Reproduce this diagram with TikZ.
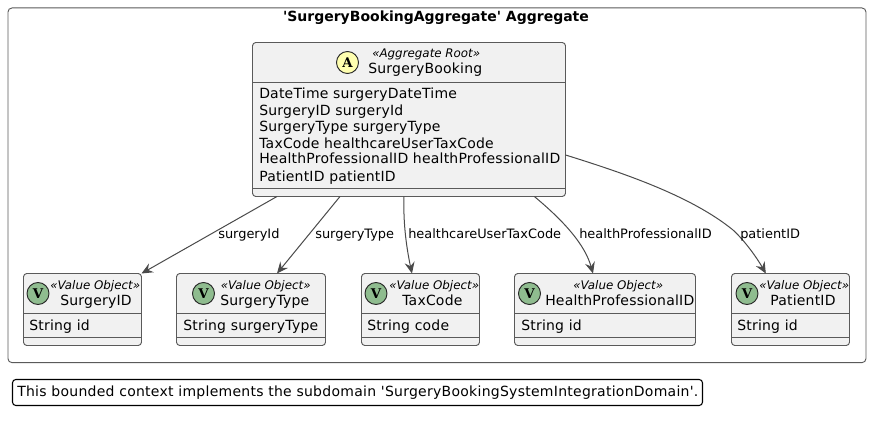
\documentclass[tikz,border=0pt]{standalone}
\usepackage{fontspec}
\setmainfont[Ligatures=TeXOff]{DejaVu Sans}
\newfontfamily\circfont{DejaVu Serif}
\usetikzlibrary{arrows.meta}
\definecolor{boxfill}{HTML}{F1F1F1}
\definecolor{linec}{HTML}{5A5A5A}
\definecolor{edgec}{HTML}{4A4A4A}
\definecolor{vgreen}{HTML}{8FBC8F}
\definecolor{ayellow}{HTML}{FFFFB0}
\tikzset{
  x=0.75pt,y=-0.75pt,
  frame/.style={draw=linec,line width=0.7pt,rounded corners=3pt,fill=white},
  classbox/.style={draw=linec,line width=0.7pt,fill=boxfill,rounded corners=2.5pt,inner sep=0pt,outer sep=0pt,anchor=north west},
  sep/.style={draw=linec,line width=0.6pt},
  txt/.style={anchor=base west,inner sep=0pt,font=\fontsize{10.5pt}{12pt}\selectfont\addfontfeature{LetterSpace=1.5},text=black},
  notetxt/.style={anchor=base west,inner sep=0pt,font=\fontsize{10.5pt}{12pt}\selectfont\addfontfeature{LetterSpace=1.9},text=black},
  stereo/.style={anchor=base west,inner sep=0pt,font=\fontsize{8.9pt}{11pt}\selectfont\itshape,text=black},
  elabel/.style={anchor=base west,inner sep=0pt,font=\fontsize{9.7pt}{11pt}\selectfont,text=black},
  badge/.style={circle,draw=black!85,line width=0.7pt,minimum size=16.5pt,inner sep=0pt,font=\circfont\fontsize{10pt}{11pt}\selectfont\bfseries},
  conn/.style={draw=edgec,line width=0.75pt,-{Stealth[length=8.5pt,width=7.5pt,inset=3pt]}}
}
\begin{document}
\begin{tikzpicture}
\useasboundingbox (0,0) rectangle (870,424);
\node[frame,anchor=north west,minimum width=643.5pt,minimum height=266pt,inner sep=0pt] (agg) at (7.5,7.5) {};
\node[anchor=base,inner sep=0pt,font=\fontsize{10.5pt}{12pt}\selectfont\bfseries] (aggt) at (436,21.5) {'SurgeryBookingAggregate' Aggregate};

\node[classbox,minimum width=234.75pt,minimum height=115.5pt] (root) at (252.5,42.5) {};
\draw[sep] (252.5,82.7) -- (565.5,82.7) (252.5,188.3) -- (565.5,188.3);
\node[badge,fill=ayellow] (rootc) at (347.5,62.5) {A};
\node[stereo] (roots) at (372,58) {«Aggregate Root»};
\node[txt] (rootn) at (368,74) {SurgeryBooking};
\node[txt] (f1) at (259,99) {DateTime surgeryDateTime};
\node[txt] (f2) at (259,115.7) {SurgeryID surgeryId};
\node[txt] (f3) at (259,132) {SurgeryType surgeryType};
\node[txt] (f4) at (259,148) {TaxCode healthcareUserTaxCode};
\node[txt] (f5) at (259,164) {HealthProfessionalID healthProfessionalID};
\node[txt] (f6) at (259,181) {PatientID patientID};

\node[classbox,minimum width=88.5pt,minimum height=54pt] (v1) at (23.5,273.5) {};
\draw[sep] (23.5,313.3) -- (141.5,313.3) (23.5,337.3) -- (141.5,337.3);
\node[badge,fill=vgreen] (v1c) at (38,293.5) {V};
\node[stereo] (v1s) at (50,289) {«Value Object»};
\node[txt] (v1n) at (60,305) {SurgeryID};
\node[txt] (v1f) at (29,330) {String id};

\node[classbox,minimum width=111.75pt,minimum height=54pt] (v2) at (176.5,273.5) {};
\draw[sep] (176.5,313.3) -- (325.5,313.3) (176.5,337.3) -- (325.5,337.3);
\node[badge,fill=vgreen] (v2c) at (203.5,293.5) {V};
\node[stereo] (v2s) at (220.5,289) {«Value Object»};
\node[txt] (v2n) at (220,305) {SurgeryType};
\node[txt] (v2f) at (183,330) {String surgeryType};

\node[classbox,minimum width=88.5pt,minimum height=54pt] (v3) at (361.5,273.5) {};
\draw[sep] (361.5,313.3) -- (479.5,313.3) (361.5,337.3) -- (479.5,337.3);
\node[badge,fill=vgreen] (v3c) at (376,293.5) {V};
\node[stereo] (v3s) at (389,289) {«Value Object»};
\node[txt] (v3n) at (402,305) {TaxCode};
\node[txt] (v3f) at (367,330) {String code};

\node[classbox,minimum width=135.75pt,minimum height=54pt] (v4) at (514.5,273.5) {};
\draw[sep] (514.5,313.3) -- (695.5,313.3) (514.5,337.3) -- (695.5,337.3);
\node[badge,fill=vgreen] (v4c) at (529.5,293.5) {V};
\node[stereo] (v4s) at (573,289) {«Value Object»};
\node[txt] (v4n) at (545,305) {HealthProfessionalID};
\node[txt] (v4f) at (521,330) {String id};

\node[classbox,minimum width=88.5pt,minimum height=54pt] (v5) at (731.5,273.5) {};
\draw[sep] (731.5,313.3) -- (849.5,313.3) (731.5,337.3) -- (849.5,337.3);
\node[badge,fill=vgreen] (v5c) at (747,293.5) {V};
\node[stereo] (v5s) at (759,289) {«Value Object»};
\node[txt] (v5n) at (770,305) {PatientID};
\node[txt] (v5f) at (737,330) {String id};

\draw[conn] ([xshift=-99pt]root.south) -- (v1.north east);
\draw[conn] ([xshift=-51.75pt]root.south) -- ([xshift=19.5pt]v2.north);
\draw[conn] ([xshift=-3.75pt]root.south) .. controls (403,225) and (407,250) .. ([xshift=-6.4pt]v3.north);
\draw[conn] ([xshift=94pt]root.south) .. controls (565,222) and (585,245) .. ([xshift=-9pt]v4.north);
\draw[conn] ([yshift=-26.6pt]root.east) .. controls (620,172) and (690,195) .. (733,230) .. controls (745,241) and (757,258) .. ([xshift=-18.5pt]v5.north);

\node[elabel] (l1) at (218,238.5) {surgeryId};
\node[elabel] (l2) at (315,238.5) {surgeryType};
\node[elabel] (l3) at (408,238.5) {healthcareUserTaxCode};
\node[elabel] (l4) at (579,238.5) {healthProfessionalID};
\node[elabel] (l5) at (740,238.5) {patientID};

\node[draw=black,line width=0.8pt,rounded corners=2.5pt,anchor=north west,minimum width=517.5pt,minimum height=19.5pt,inner sep=0pt,outer sep=0pt] (note) at (12.5,379.5) {};
\node[notetxt] (notet) at (17,396.7) {This bounded context implements the subdomain 'SurgeryBookingSystemIntegrationDomain'.};
\end{tikzpicture}
\end{document}
